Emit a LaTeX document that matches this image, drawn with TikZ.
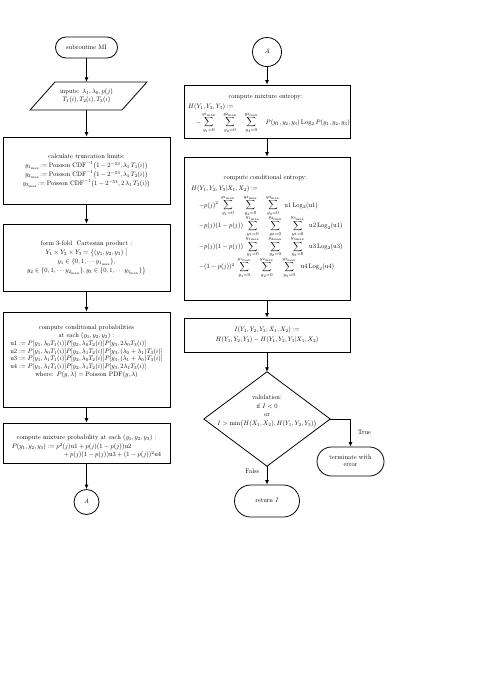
\documentclass[tikz,border=0pt]{standalone}
\usepackage{amsmath}
\usepackage{graphicx}
\usetikzlibrary{shapes.misc,arrows.meta}
\newcommand{\myfc}[1]{\scalebox{0.65}{\begin{tabular}{@{}c@{}}#1\end{tabular}}}
\newcommand{\myfl}[1]{\scalebox{0.65}{\begin{tabular}{@{}l@{}}#1\end{tabular}}}
\newcommand{\ymx}[1]{y_{#1_{\max}}}
\newcommand{\tsum}{\sum_{y_1=0}^{\ymx{1}}\quad\sum_{y_2=0}^{\ymx{2}}\quad\sum_{y_3=0}^{\ymx{3}}}
\newcommand{\tsumw}{\sum_{y_1=0}^{\ymx{1}}\hspace{12pt}\sum_{y_2=0}^{\ymx{2}}\hspace{12pt}\sum_{y_3=0}^{\ymx{3}}}
\begin{document}
\begin{tikzpicture}[x=1pt,y=-1pt,
  txt/.style={inner sep=0pt},
  box/.style={draw, line width=0.8pt, rectangle, inner sep=0pt},
  stad/.style={draw, line width=0.8pt, rounded rectangle, inner sep=0pt},
  conn/.style={draw, line width=0.8pt, circle, inner sep=0pt},
  edge/.style={line width=0.8pt},
  arr/.style={line width=0.8pt, -{Latex[length=4.5pt,width=4pt]}}]
\fill[white] (0,0) rectangle (479,683);
\useasboundingbox (0,0) rectangle (479,683);

% ---------------- left column ----------------
\node[stad, minimum width=62, minimum height=21] (start) at (86.5,47.5) {\myfc{subroutine MI}};

\node[txt, minimum width=92, minimum height=28] (inp) at (86.5,96) {\myfc{inputs: $\lambda_1,\lambda_0,p(j)$\\[1pt] $T_1(i),T_2(i),T_3(i)$}};
\draw[edge] (30,110) -- (122,110) -- (147,82) -- (55,82) -- cycle;

\node[box, txt, minimum width=167, minimum height=67] (trunc) at (86.5,170.5) {\myfc{calculate truncation limits:\\[1pt]
$\ymx{1}\!:= \text{Poisson CDF}^{-1}\bigl(1-2^{-53},\lambda_1\,T_1(i)\bigr)$\\[1pt]
$\ymx{2}\!:= \text{Poisson CDF}^{-1}\bigl(1-2^{-53},\lambda_1\,T_2(i)\bigr)$\\[1pt]
$\ymx{3}\!:= \text{Poisson CDF}^{-1}\bigl(1-2^{-53},2\,\lambda_1\,T_3(i)\bigr)$}};

\node[box, txt, minimum width=167, minimum height=67] (cart) at (86.5,257.5) {\myfc{form 3-fold\ \ Cartesian product :\\[2pt]
$Y_1\times Y_2\times Y_3=\bigl\{(y_1,y_2,y_3)\bigm|$\\[2pt]
$y_1\in\{0,1,\cdots \ymx{1}\},$\\[2pt]
$y_2\in\{0,1,\cdots \ymx{2}\},y_3\in\{0,1,\cdots \ymx{3}\}\bigr\}$}};

\node[box, minimum width=167, minimum height=95] (cprob) at (86.5,359.5) {};
\node[txt] (cprobt) at (86.5,351.5) {\myfc{compute conditional probabilities\\
at each $(y_1,y_2,y_3)$ :\\
\begin{tabular}{@{}l@{}}
$\mathrm{u1}:=P[y_1,\lambda_0T_1(i)]P[y_2,\lambda_0T_2(i)]P[y_3,2\lambda_0T_3(i)]$\\
$\mathrm{u2}:=P[y_1,\lambda_0T_1(i)]P[y_2,\lambda_1T_2(i)]P[y_3,(\lambda_0+\lambda_1)T_3(i)]$\\
$\mathrm{u3}:=P[y_1,\lambda_1T_1(i)]P[y_2,\lambda_0T_2(i)]P[y_3,(\lambda_1+\lambda_0)T_3(i)]$\\
$\mathrm{u4}:=P[y_1,\lambda_1T_1(i)]P[y_2,\lambda_1T_2(i)]P[y_3,2\lambda_1T_3(i)]$
\end{tabular}\\
where: $P(y,\lambda)=\text{Poisson PDF}(y,\lambda)$}};

\node[box, minimum width=167, minimum height=40] (mprob) at (86.5,443) {};
\node[txt] (mprobt) at (86.5,446.5) {\myfc{compute mixture probability at each $(y_1,y_2,y_3)$ :\\[2pt]
\makebox[230pt][l]{$P(y_1,y_2,y_3):=p^2(j)\mathrm{u1}+p(j)(1-p(j))\mathrm{u2}$}\\[1pt]
\makebox[230pt][r]{$+\,p(j)(1-p(j))\mathrm{u3}+(1-p(j))^2\mathrm{u4}$}}};

\node[conn, minimum size=25] (A1) at (86.5,502) {\myfc{$A$}};

% ---------------- right column ----------------
\node[conn, minimum size=29] (A2) at (267,52) {\myfc{$A$}};

\node[box, minimum width=166, minimum height=53] (ment) at (267,111.5) {};
\node[txt, anchor=north west] (mentt) at (188,93) {\myfl{\hspace*{62pt}compute mixture entropy:\\[3pt]
$H(Y_1,Y_2,Y_3):=$\\[3pt]
\hspace*{12pt}$\displaystyle -\tsum\quad P(y_1,y_2,y_3)\,\mathrm{Log}_2\,P(y_1,y_2,y_3)$}};

\node[box, minimum width=166, minimum height=143] (cent) at (267,228.5) {};
\node[txt, anchor=north west] (centt) at (191,174) {\myfl{\hspace*{50pt}compute conditional entropy:\\[5pt]
$H(Y_1,Y_2,Y_3|X_1,X_2):=$\\[4pt]
\hspace*{12pt}$\displaystyle -p(j)^2\;\tsumw\;\;\mathrm{u1}\,\mathrm{Log}_2(\mathrm{u1})$\\[8pt]
\hspace*{12pt}$\displaystyle -p(j)(1-p(j))\;\tsumw\;\;\mathrm{u2}\,\mathrm{Log}_2(\mathrm{u1})$\\[8pt]
\hspace*{12pt}$\displaystyle -p(j)(1-p(j))\;\tsumw\;\;\mathrm{u3}\,\mathrm{Log}_2(\mathrm{u3})$\\[7pt]
\hspace*{12pt}$\displaystyle -(1-p(j))^2\;\tsumw\;\;\mathrm{u4}\,\mathrm{Log}_2(\mathrm{u4})$}};

\node[box, txt, minimum width=166, minimum height=34] (mi) at (267,335) {\myfc{$I(Y_1,Y_2,Y_3;X_1,X_2):=$\\[3pt]
$H(Y_1,Y_2,Y_3)-H(Y_1,Y_2,Y_3|X_1,X_2)$}};

\node[minimum width=126, minimum height=94, inner sep=0pt] (val) at (267,419) {};
\draw[edge] (val.north) -- (val.east) -- (val.south) -- (val.west) -- cycle;
\node[txt] (valt) at (267,411) {\myfc{validation:\\[1pt] if $I<0$\\[1pt] or\\[1pt] $I>\min\bigl(H(X_1,X_2),H(Y_1,Y_2,Y_3)\bigr)$}};

\node[stad, minimum width=67, minimum height=29] (err) at (350.5,461.5) {\myfc{terminate with\\ error}};
\node[stad, minimum width=65, minimum height=32] (ret) at (267,501) {\myfc{return $I$}};

% ---------------- connectors ----------------
\draw[arr] (start.south) -- (inp.north);
\draw[arr] (inp.south) -- (trunc.north);
\draw[arr] (trunc.south) -- (cart.north);
\draw[arr] (cart.south) -- (cprob.north);
\draw[arr] (cprob.south) -- (mprob.north);
\draw[arr] (mprob.south) -- (A1.north);
\draw[arr] (A2.south) -- (ment.north);
\draw[arr] (ment.south) -- (cent.north);
\draw[arr] (cent.south) -- (mi.north);
\draw[arr] (mi.south) -- (val.north);
\draw[arr] (val.east) -| (err.north) node[txt, pos=0.75, anchor=west, xshift=7pt] (tlab) {\myfc{True}};
\draw[arr] (val.south) -- (ret.north) node[txt, pos=0.3, anchor=east, xshift=-7pt] (flab) {\myfc{False}};
\end{tikzpicture}
\end{document}
